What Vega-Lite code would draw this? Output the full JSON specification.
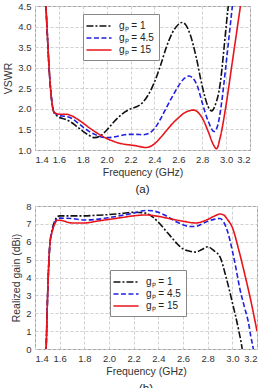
{
  "$schema": "https://vega.github.io/schema/vega-lite/v6.json",
  "padding": {"left": 3, "top": 0, "right": 7, "bottom": 0},
  "spacing": 4,
  "background": "white",
  "config": {
    "font": "Liberation Sans",
    "view": {"stroke": "#9a9a9a", "strokeWidth": 1},
    "axis": {
      "grid": true,
      "gridColor": "#d0d0d0",
      "gridDash": [3, 2],
      "domain": false,
      "ticks": false,
      "labelFontSize": 9.5,
      "labelColor": "#333",
      "titleFontSize": 10.5,
      "titleFontWeight": "normal",
      "titleColor": "#333",
      "labelPadding": 4
    },
    "legend": {
      "orient": "none",
      "fillColor": "white",
      "strokeColor": "#888",
      "padding": 5,
      "labelFontSize": 10,
      "labelColor": "#222",
      "symbolType": "M-2.2,0H2.2",
      "symbolSize": 130,
      "symbolStrokeWidth": 1.6,
      "symbolOffset": 4,
      "labelOffset": 13,
      "rowPadding": 0,
      "title": null
    },
    "title": {"orient": "bottom", "fontSize": 11.5, "fontWeight": "normal", "color": "#222", "offset": 6}
  },
  "datasets": {
    "vswr": [
      {"f": 1.48, "v": 5.2, "s": "gₚ = 1"}, {"f": 1.5, "v": 4.0, "s": "gₚ = 1"}, {"f": 1.52, "v": 2.9, "s": "gₚ = 1"}, {"f": 1.54, "v": 2.2, "s": "gₚ = 1"}, {"f": 1.56, "v": 1.9, "s": "gₚ = 1"}, {"f": 1.6, "v": 1.8, "s": "gₚ = 1"}, {"f": 1.65, "v": 1.75, "s": "gₚ = 1"}, {"f": 1.7, "v": 1.68, "s": "gₚ = 1"}, {"f": 1.75, "v": 1.57, "s": "gₚ = 1"}, {"f": 1.8, "v": 1.46, "s": "gₚ = 1"}, {"f": 1.85, "v": 1.36, "s": "gₚ = 1"}, {"f": 1.9, "v": 1.3, "s": "gₚ = 1"}, {"f": 1.95, "v": 1.35, "s": "gₚ = 1"}, {"f": 2.0, "v": 1.48, "s": "gₚ = 1"}, {"f": 2.05, "v": 1.65, "s": "gₚ = 1"}, {"f": 2.1, "v": 1.8, "s": "gₚ = 1"}, {"f": 2.15, "v": 1.92, "s": "gₚ = 1"}, {"f": 2.2, "v": 2.0, "s": "gₚ = 1"}, {"f": 2.25, "v": 2.05, "s": "gₚ = 1"}, {"f": 2.3, "v": 2.15, "s": "gₚ = 1"}, {"f": 2.35, "v": 2.35, "s": "gₚ = 1"}, {"f": 2.4, "v": 2.65, "s": "gₚ = 1"}, {"f": 2.45, "v": 3.05, "s": "gₚ = 1"}, {"f": 2.5, "v": 3.5, "s": "gₚ = 1"}, {"f": 2.55, "v": 3.85, "s": "gₚ = 1"}, {"f": 2.6, "v": 4.05, "s": "gₚ = 1"}, {"f": 2.63, "v": 4.1, "s": "gₚ = 1"}, {"f": 2.66, "v": 4.05, "s": "gₚ = 1"}, {"f": 2.7, "v": 3.8, "s": "gₚ = 1"}, {"f": 2.75, "v": 3.25, "s": "gₚ = 1"}, {"f": 2.8, "v": 2.55, "s": "gₚ = 1"}, {"f": 2.85, "v": 2.05, "s": "gₚ = 1"}, {"f": 2.88, "v": 1.95, "s": "gₚ = 1"}, {"f": 2.91, "v": 2.1, "s": "gₚ = 1"}, {"f": 2.95, "v": 2.6, "s": "gₚ = 1"}, {"f": 2.98, "v": 3.4, "s": "gₚ = 1"}, {"f": 3.0, "v": 4.0, "s": "gₚ = 1"}, {"f": 3.03, "v": 4.8, "s": "gₚ = 1"},
      {"f": 1.48, "v": 5.2, "s": "gₚ = 4.5"}, {"f": 1.5, "v": 4.0, "s": "gₚ = 4.5"}, {"f": 1.52, "v": 2.9, "s": "gₚ = 4.5"}, {"f": 1.54, "v": 2.2, "s": "gₚ = 4.5"}, {"f": 1.56, "v": 1.92, "s": "gₚ = 4.5"}, {"f": 1.6, "v": 1.84, "s": "gₚ = 4.5"}, {"f": 1.65, "v": 1.82, "s": "gₚ = 4.5"}, {"f": 1.7, "v": 1.78, "s": "gₚ = 4.5"}, {"f": 1.75, "v": 1.68, "s": "gₚ = 4.5"}, {"f": 1.8, "v": 1.56, "s": "gₚ = 4.5"}, {"f": 1.85, "v": 1.46, "s": "gₚ = 4.5"}, {"f": 1.9, "v": 1.38, "s": "gₚ = 4.5"}, {"f": 1.95, "v": 1.32, "s": "gₚ = 4.5"}, {"f": 2.0, "v": 1.3, "s": "gₚ = 4.5"}, {"f": 2.05, "v": 1.31, "s": "gₚ = 4.5"}, {"f": 2.1, "v": 1.34, "s": "gₚ = 4.5"}, {"f": 2.15, "v": 1.37, "s": "gₚ = 4.5"}, {"f": 2.2, "v": 1.38, "s": "gₚ = 4.5"}, {"f": 2.25, "v": 1.38, "s": "gₚ = 4.5"}, {"f": 2.3, "v": 1.37, "s": "gₚ = 4.5"}, {"f": 2.35, "v": 1.4, "s": "gₚ = 4.5"}, {"f": 2.4, "v": 1.52, "s": "gₚ = 4.5"}, {"f": 2.45, "v": 1.75, "s": "gₚ = 4.5"}, {"f": 2.5, "v": 2.03, "s": "gₚ = 4.5"}, {"f": 2.55, "v": 2.3, "s": "gₚ = 4.5"}, {"f": 2.6, "v": 2.55, "s": "gₚ = 4.5"}, {"f": 2.65, "v": 2.74, "s": "gₚ = 4.5"}, {"f": 2.69, "v": 2.8, "s": "gₚ = 4.5"}, {"f": 2.72, "v": 2.75, "s": "gₚ = 4.5"}, {"f": 2.76, "v": 2.55, "s": "gₚ = 4.5"}, {"f": 2.8, "v": 2.15, "s": "gₚ = 4.5"}, {"f": 2.85, "v": 1.7, "s": "gₚ = 4.5"}, {"f": 2.9, "v": 1.45, "s": "gₚ = 4.5"}, {"f": 2.93, "v": 1.6, "s": "gₚ = 4.5"}, {"f": 2.96, "v": 2.1, "s": "gₚ = 4.5"}, {"f": 3.0, "v": 3.1, "s": "gₚ = 4.5"}, {"f": 3.03, "v": 3.9, "s": "gₚ = 4.5"}, {"f": 3.06, "v": 4.7, "s": "gₚ = 4.5"},
      {"f": 1.48, "v": 5.2, "s": "gₚ = 15"}, {"f": 1.5, "v": 4.0, "s": "gₚ = 15"}, {"f": 1.52, "v": 2.9, "s": "gₚ = 15"}, {"f": 1.54, "v": 2.2, "s": "gₚ = 15"}, {"f": 1.56, "v": 1.92, "s": "gₚ = 15"}, {"f": 1.6, "v": 1.87, "s": "gₚ = 15"}, {"f": 1.65, "v": 1.87, "s": "gₚ = 15"}, {"f": 1.7, "v": 1.84, "s": "gₚ = 15"}, {"f": 1.75, "v": 1.76, "s": "gₚ = 15"}, {"f": 1.8, "v": 1.66, "s": "gₚ = 15"}, {"f": 1.85, "v": 1.55, "s": "gₚ = 15"}, {"f": 1.9, "v": 1.45, "s": "gₚ = 15"}, {"f": 1.95, "v": 1.36, "s": "gₚ = 15"}, {"f": 2.0, "v": 1.28, "s": "gₚ = 15"}, {"f": 2.05, "v": 1.22, "s": "gₚ = 15"}, {"f": 2.1, "v": 1.17, "s": "gₚ = 15"}, {"f": 2.15, "v": 1.14, "s": "gₚ = 15"}, {"f": 2.2, "v": 1.12, "s": "gₚ = 15"}, {"f": 2.25, "v": 1.1, "s": "gₚ = 15"}, {"f": 2.3, "v": 1.07, "s": "gₚ = 15"}, {"f": 2.33, "v": 1.06, "s": "gₚ = 15"}, {"f": 2.36, "v": 1.08, "s": "gₚ = 15"}, {"f": 2.4, "v": 1.15, "s": "gₚ = 15"}, {"f": 2.45, "v": 1.3, "s": "gₚ = 15"}, {"f": 2.5, "v": 1.47, "s": "gₚ = 15"}, {"f": 2.55, "v": 1.64, "s": "gₚ = 15"}, {"f": 2.6, "v": 1.78, "s": "gₚ = 15"}, {"f": 2.65, "v": 1.9, "s": "gₚ = 15"}, {"f": 2.7, "v": 1.96, "s": "gₚ = 15"}, {"f": 2.73, "v": 1.97, "s": "gₚ = 15"}, {"f": 2.77, "v": 1.9, "s": "gₚ = 15"}, {"f": 2.8, "v": 1.78, "s": "gₚ = 15"}, {"f": 2.85, "v": 1.45, "s": "gₚ = 15"}, {"f": 2.89, "v": 1.15, "s": "gₚ = 15"}, {"f": 2.92, "v": 1.03, "s": "gₚ = 15"}, {"f": 2.95, "v": 1.3, "s": "gₚ = 15"}, {"f": 3.0, "v": 2.1, "s": "gₚ = 15"}, {"f": 3.05, "v": 3.1, "s": "gₚ = 15"}, {"f": 3.1, "v": 4.1, "s": "gₚ = 15"}, {"f": 3.13, "v": 4.7, "s": "gₚ = 15"}
    ],
    "gain": [
      {"f": 1.485, "g": -0.5, "s": "gₚ = 1"}, {"f": 1.49, "g": 0, "s": "gₚ = 1"}, {"f": 1.5, "g": 2.5, "s": "gₚ = 1"}, {"f": 1.51, "g": 4.5, "s": "gₚ = 1"}, {"f": 1.52, "g": 5.8, "s": "gₚ = 1"}, {"f": 1.54, "g": 6.7, "s": "gₚ = 1"}, {"f": 1.56, "g": 7.15, "s": "gₚ = 1"}, {"f": 1.58, "g": 7.4, "s": "gₚ = 1"}, {"f": 1.6, "g": 7.45, "s": "gₚ = 1"}, {"f": 1.7, "g": 7.45, "s": "gₚ = 1"}, {"f": 1.8, "g": 7.45, "s": "gₚ = 1"}, {"f": 1.9, "g": 7.48, "s": "gₚ = 1"}, {"f": 2.0, "g": 7.52, "s": "gₚ = 1"}, {"f": 2.1, "g": 7.58, "s": "gₚ = 1"}, {"f": 2.2, "g": 7.65, "s": "gₚ = 1"}, {"f": 2.3, "g": 7.6, "s": "gₚ = 1"}, {"f": 2.35, "g": 7.4, "s": "gₚ = 1"}, {"f": 2.4, "g": 7.1, "s": "gₚ = 1"}, {"f": 2.45, "g": 6.7, "s": "gₚ = 1"}, {"f": 2.5, "g": 6.3, "s": "gₚ = 1"}, {"f": 2.55, "g": 5.9, "s": "gₚ = 1"}, {"f": 2.6, "g": 5.6, "s": "gₚ = 1"}, {"f": 2.65, "g": 5.48, "s": "gₚ = 1"}, {"f": 2.7, "g": 5.42, "s": "gₚ = 1"}, {"f": 2.75, "g": 5.55, "s": "gₚ = 1"}, {"f": 2.8, "g": 5.72, "s": "gₚ = 1"}, {"f": 2.85, "g": 5.5, "s": "gₚ = 1"}, {"f": 2.9, "g": 5.15, "s": "gₚ = 1"}, {"f": 2.95, "g": 4.0, "s": "gₚ = 1"}, {"f": 3.0, "g": 2.6, "s": "gₚ = 1"}, {"f": 3.05, "g": 1.1, "s": "gₚ = 1"}, {"f": 3.08, "g": 0, "s": "gₚ = 1"}, {"f": 3.09, "g": -0.5, "s": "gₚ = 1"},
      {"f": 1.485, "g": -0.5, "s": "gₚ = 4.5"}, {"f": 1.49, "g": 0, "s": "gₚ = 4.5"}, {"f": 1.5, "g": 2.5, "s": "gₚ = 4.5"}, {"f": 1.51, "g": 4.5, "s": "gₚ = 4.5"}, {"f": 1.52, "g": 5.8, "s": "gₚ = 4.5"}, {"f": 1.54, "g": 6.6, "s": "gₚ = 4.5"}, {"f": 1.56, "g": 7.05, "s": "gₚ = 4.5"}, {"f": 1.58, "g": 7.3, "s": "gₚ = 4.5"}, {"f": 1.6, "g": 7.32, "s": "gₚ = 4.5"}, {"f": 1.7, "g": 7.3, "s": "gₚ = 4.5"}, {"f": 1.8, "g": 7.22, "s": "gₚ = 4.5"}, {"f": 1.9, "g": 7.25, "s": "gₚ = 4.5"}, {"f": 2.0, "g": 7.35, "s": "gₚ = 4.5"}, {"f": 2.1, "g": 7.47, "s": "gₚ = 4.5"}, {"f": 2.2, "g": 7.6, "s": "gₚ = 4.5"}, {"f": 2.3, "g": 7.75, "s": "gₚ = 4.5"}, {"f": 2.35, "g": 7.73, "s": "gₚ = 4.5"}, {"f": 2.4, "g": 7.65, "s": "gₚ = 4.5"}, {"f": 2.45, "g": 7.5, "s": "gₚ = 4.5"}, {"f": 2.5, "g": 7.3, "s": "gₚ = 4.5"}, {"f": 2.55, "g": 7.1, "s": "gₚ = 4.5"}, {"f": 2.6, "g": 6.95, "s": "gₚ = 4.5"}, {"f": 2.65, "g": 6.85, "s": "gₚ = 4.5"}, {"f": 2.7, "g": 6.85, "s": "gₚ = 4.5"}, {"f": 2.75, "g": 6.98, "s": "gₚ = 4.5"}, {"f": 2.8, "g": 7.15, "s": "gₚ = 4.5"}, {"f": 2.85, "g": 7.25, "s": "gₚ = 4.5"}, {"f": 2.9, "g": 7.3, "s": "gₚ = 4.5"}, {"f": 2.93, "g": 7.1, "s": "gₚ = 4.5"}, {"f": 2.96, "g": 6.6, "s": "gₚ = 4.5"}, {"f": 3.0, "g": 5.5, "s": "gₚ = 4.5"}, {"f": 3.03, "g": 4.5, "s": "gₚ = 4.5"}, {"f": 3.06, "g": 3.4, "s": "gₚ = 4.5"}, {"f": 3.1, "g": 2.3, "s": "gₚ = 4.5"}, {"f": 3.13, "g": 1.5, "s": "gₚ = 4.5"}, {"f": 3.15, "g": 0.7, "s": "gₚ = 4.5"}, {"f": 3.17, "g": 0, "s": "gₚ = 4.5"}, {"f": 3.18, "g": -0.5, "s": "gₚ = 4.5"},
      {"f": 1.485, "g": -0.5, "s": "gₚ = 15"}, {"f": 1.49, "g": 0, "s": "gₚ = 15"}, {"f": 1.5, "g": 2.5, "s": "gₚ = 15"}, {"f": 1.51, "g": 4.5, "s": "gₚ = 15"}, {"f": 1.52, "g": 5.8, "s": "gₚ = 15"}, {"f": 1.54, "g": 6.6, "s": "gₚ = 15"}, {"f": 1.56, "g": 7.0, "s": "gₚ = 15"}, {"f": 1.58, "g": 7.2, "s": "gₚ = 15"}, {"f": 1.6, "g": 7.2, "s": "gₚ = 15"}, {"f": 1.7, "g": 7.05, "s": "gₚ = 15"}, {"f": 1.8, "g": 7.05, "s": "gₚ = 15"}, {"f": 1.9, "g": 7.15, "s": "gₚ = 15"}, {"f": 2.0, "g": 7.25, "s": "gₚ = 15"}, {"f": 2.1, "g": 7.35, "s": "gₚ = 15"}, {"f": 2.2, "g": 7.45, "s": "gₚ = 15"}, {"f": 2.3, "g": 7.5, "s": "gₚ = 15"}, {"f": 2.4, "g": 7.42, "s": "gₚ = 15"}, {"f": 2.5, "g": 7.28, "s": "gₚ = 15"}, {"f": 2.6, "g": 7.15, "s": "gₚ = 15"}, {"f": 2.7, "g": 7.05, "s": "gₚ = 15"}, {"f": 2.8, "g": 7.25, "s": "gₚ = 15"}, {"f": 2.85, "g": 7.42, "s": "gₚ = 15"}, {"f": 2.9, "g": 7.55, "s": "gₚ = 15"}, {"f": 2.93, "g": 7.5, "s": "gₚ = 15"}, {"f": 2.96, "g": 7.25, "s": "gₚ = 15"}, {"f": 3.0, "g": 6.8, "s": "gₚ = 15"}, {"f": 3.05, "g": 5.6, "s": "gₚ = 15"}, {"f": 3.1, "g": 4.2, "s": "gₚ = 15"}, {"f": 3.15, "g": 2.7, "s": "gₚ = 15"}, {"f": 3.2, "g": 1.0, "s": "gₚ = 15"}
    ]
  },
  "vconcat": [
    {
      "width": 215,
      "height": 144,
      "title": {"text": "(a)"},
      "data": {"name": "vswr"},
      "mark": {"type": "line", "clip": true, "strokeWidth": 1.6, "interpolate": "monotone"},
      "encoding": {
        "x": {"field": "f", "type": "quantitative", "title": "Frequency (GHz)",
              "scale": {"domain": [1.4, 3.2], "nice": false},
              "axis": {"values": [1.4, 1.6, 1.8, 2.0, 2.2, 2.4, 2.6, 2.8, 3.0, 3.2], "format": ".1f"}},
        "y": {"field": "v", "type": "quantitative", "title": "VSWR",
              "scale": {"domain": [1, 4.5], "nice": false},
              "axis": {"values": [1, 1.5, 2, 2.5, 3, 3.5, 4, 4.5], "format": ".1f"}},
        "color": {"field": "s", "type": "nominal",
                  "scale": {"domain": ["gₚ = 1", "gₚ = 4.5", "gₚ = 15"], "range": ["#111111", "#2020e0", "#e8141b"]},
                  "legend": {"legendX": 48, "legendY": 8}},
        "strokeDash": {"field": "s", "type": "nominal",
                       "scale": {"domain": ["gₚ = 1", "gₚ = 4.5", "gₚ = 15"], "range": [[7, 2, 2, 2], [5, 2.5], [1, 0]]},
                       "legend": {"legendX": 48, "legendY": 8}}
      }
    },
    {
      "width": 222,
      "height": 143,
      "title": {"text": "(b)"},
      "data": {"name": "gain"},
      "mark": {"type": "line", "clip": true, "strokeWidth": 1.6, "interpolate": "monotone"},
      "encoding": {
        "x": {"field": "f", "type": "quantitative", "title": "Frequency (GHz)",
              "scale": {"domain": [1.4, 3.2], "nice": false},
              "axis": {"values": [1.4, 1.6, 1.8, 2.0, 2.2, 2.4, 2.6, 2.8, 3.0, 3.2], "format": ".1f"}},
        "y": {"field": "g", "type": "quantitative", "title": "Realized gain (dBi)",
              "scale": {"domain": [0, 8], "nice": false},
              "axis": {"values": [0, 1, 2, 3, 4, 5, 6, 7, 8]}},
        "color": {"field": "s", "type": "nominal",
                  "scale": {"domain": ["gₚ = 1", "gₚ = 4.5", "gₚ = 15"], "range": ["#111111", "#2020e0", "#e8141b"]},
                  "legend": {"legendX": 75, "legendY": 64}},
        "strokeDash": {"field": "s", "type": "nominal",
                       "scale": {"domain": ["gₚ = 1", "gₚ = 4.5", "gₚ = 15"], "range": [[7, 2, 2, 2], [5, 2.5], [1, 0]]},
                       "legend": {"legendX": 75, "legendY": 64}}
      }
    }
  ],
  "resolve": {"scale": {"color": "independent", "strokeDash": "independent"}}
}
